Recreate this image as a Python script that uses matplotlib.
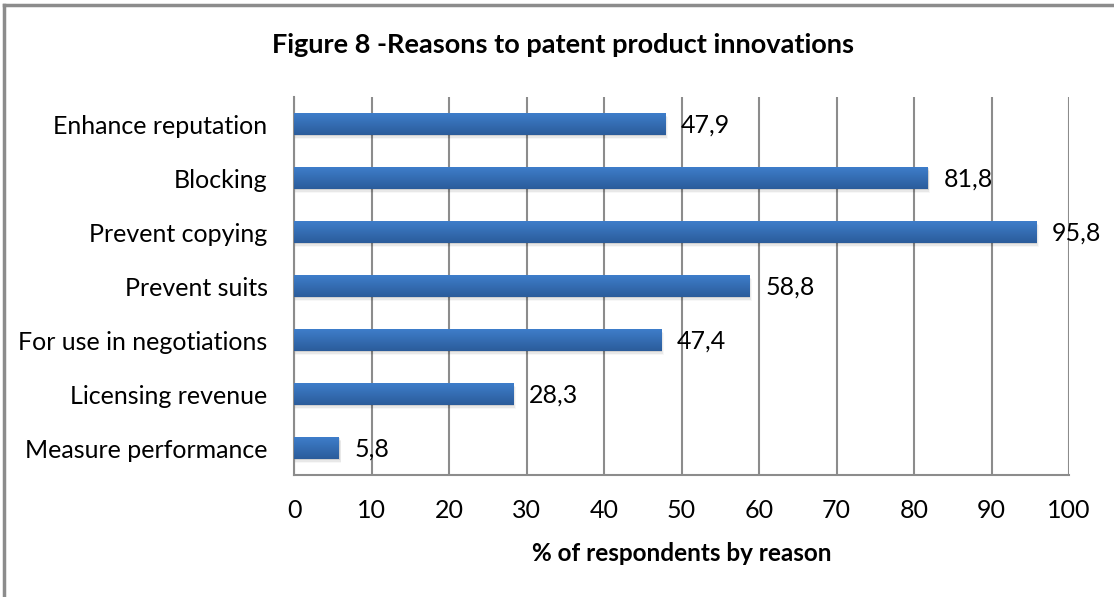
import matplotlib
matplotlib.use("Agg")
import matplotlib.pyplot as plt
import numpy as np
from matplotlib.patches import Rectangle
from matplotlib.lines import Line2D

categories = ["Enhance reputation", "Blocking", "Prevent copying", "Prevent suits",
              "For use in negotiations", "Licensing revenue", "Measure performance"]
values = [47.9, 81.8, 95.8, 58.8, 47.4, 28.3, 5.8]
value_labels = ["47,9", "81,8", "95,8", "58,8", "47,4", "28,3", "5,8"]
xticks = [0, 10, 20, 30, 40, 50, 60, 70, 80, 90, 100]

plt.rcParams["font.family"] = ["Lato", "DejaVu Sans"]

fig = plt.figure(figsize=(11.14, 5.97), dpi=100)
ax = fig.add_axes([294 / 1114, 1 - 475 / 597, (1069 - 294) / 1114, (475 - 97) / 597])

n = len(categories)
ypos = np.arange(n)[::-1]
bar_h = 0.41

grad = np.linspace(0, 1, 64).reshape(-1, 1)
cmap = matplotlib.colors.LinearSegmentedColormap.from_list("bar", ["#3F7FCC", "#2B5C9B"])

for y, v, lab in zip(ypos, values, value_labels):
    # soft shadow beneath each bar
    for k, a in enumerate([0.10, 0.06, 0.03]):
        off = 0.025 + 0.025 * k
        ax.add_patch(Rectangle((0.1, y - bar_h / 2 - off), v + 0.1 * k, bar_h,
                               facecolor="black", alpha=a, edgecolor="none", zorder=2))
    bar = Rectangle((0, y - bar_h / 2), v, bar_h, facecolor="none", edgecolor="none", zorder=3)
    ax.add_patch(bar)
    im = ax.imshow(grad, cmap=cmap, aspect="auto", extent=(0, v, y - bar_h / 2, y + bar_h / 2),
                   origin="upper", zorder=3, interpolation="bilinear")
    im.set_clip_path(bar)
    ax.text(v + 2.0, y - 0.02, lab, va="center", ha="left", fontsize=18, color="black", zorder=4)

ax.set_xlim(0, 100)
ax.set_ylim(-0.5, n - 0.5)
ax.set_xticks(xticks)
ax.set_xticklabels([str(t) for t in xticks], fontsize=18)
ax.set_yticks(ypos)
ax.set_yticklabels(categories, fontsize=18)
ax.tick_params(axis="both", length=0)
ax.tick_params(axis="x", pad=17)
ax.tick_params(axis="y", pad=19)
ax.grid(axis="x", color="#8C8C8C", linewidth=1.5, zorder=0)
ax.set_axisbelow(True)
for s in ["top", "right"]:
    ax.spines[s].set_visible(False)
ax.spines["left"].set_color("#8C8C8C")
ax.spines["left"].set_linewidth(1.5)
ax.spines["bottom"].set_color("#8C8C8C")
ax.spines["bottom"].set_linewidth(1.5)

ax.set_xlabel("% of respondents by reason", fontsize=17.5, fontweight="bold", labelpad=15)
fig.text(563 / 1114, 1 - 45 / 597, "Figure 8 -Reasons to patent product innovations",
         ha="center", va="center", fontsize=19.5, fontweight="bold")

# outer chart frame
fig.add_artist(Line2D([4 / 1114, 4 / 1114], [0, 1 - 5 / 597], color="#8C8C8C", linewidth=2.5,
                      transform=fig.transFigure))
fig.add_artist(Line2D([4 / 1114, 1], [1 - 5 / 597, 1 - 5 / 597], color="#8C8C8C", linewidth=2.5,
                      transform=fig.transFigure))

fig.savefig("out.png", dpi=100)
